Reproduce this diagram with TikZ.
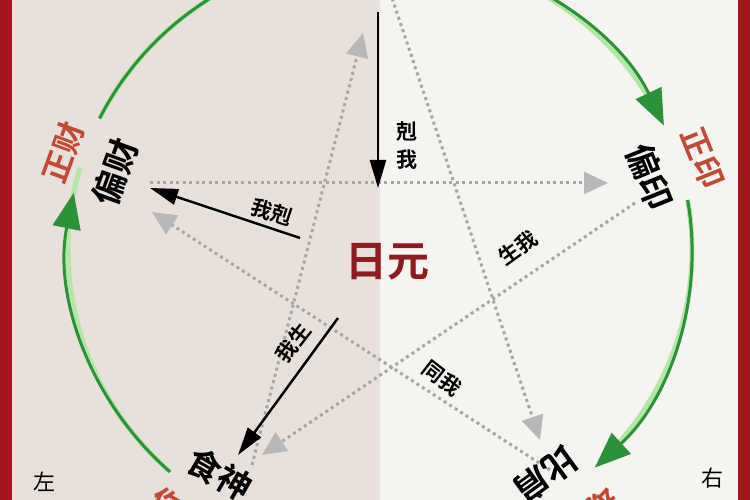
\documentclass[tikz,border=0pt]{standalone}
\usepackage{fontspec}
\newfontfamily\cjk{Noto Sans CJK SC}[BoldFont={* Bold}]
\usetikzlibrary{arrows.meta}

\definecolor{bgleft}{HTML}{E8E1DB}
\definecolor{bgright}{HTML}{F6F4F1}
\definecolor{frame}{HTML}{A3161A}
\definecolor{redlabel}{HTML}{C24A35}
\definecolor{rizhu}{HTML}{8E1B1F}
\definecolor{darkgreen}{HTML}{2B9238}
\definecolor{lightgreen}{HTML}{B2E8A4}
\definecolor{dotgray}{HTML}{A6A6A6}
\definecolor{tipgray}{HTML}{B8B8B8}

\begin{document}
\begin{tikzpicture}[x=1pt, y=1pt,
    ten/.style={font=\cjk\bfseries\fontsize{34}{34}\selectfont, text=black, inner sep=0pt},
    zheng/.style={font=\cjk\bfseries\fontsize{31}{31}\selectfont, text=redlabel, inner sep=0pt},
    rel/.style={font=\cjk\bfseries\fontsize{21}{28}\selectfont, text=black, inner sep=0pt, align=center},
    side/.style={font=\cjk\fontsize{22}{22}\selectfont, text=black, inner sep=0pt},
    star/.style={draw=dotgray, line width=3pt, dash pattern=on 3pt off 3.5pt,
        -{Triangle[length=24pt, width=22pt, color=tipgray]}},
    force/.style={draw=black, line width=2.5pt, -{Triangle[length=28pt, width=16pt]}},
    ringlight/.style={draw=lightgreen, line width=5pt},
    ring/.style={draw=darkgreen, line width=3pt},
    ringtip/.style={draw=darkgreen, line width=3pt, -{Triangle[length=36pt, width=28pt]}}]

    \clip (0,0) rectangle (750,500);

    %% BACKGROUND
    \fill[bgleft] (0,0) rectangle (380,500);
    \fill[bgright] (380,0) rectangle (750,500);
    \fill[frame] (0,0) rectangle (12,500);
    \fill[frame] (738,0) rectangle (750,500);

    %% COORDINATES
    \coordinate (O) at (380,250);
    % star ends
    \coordinate (sT1) at (386,520);
    \coordinate (sT2) at (363,467);
    \coordinate (sL1) at (150,317);
    \coordinate (sL2) at (152,288);
    \coordinate (sR1) at (608,317);
    \coordinate (sR2) at (635,297);
    \coordinate (sBL1) at (252,35);
    \coordinate (sBL2) at (262,45);
    \coordinate (sBR1) at (550,30);
    \coordinate (sBR2) at (540,60);
    % force ends
    \coordinate (fT) at (378,488);
    \coordinate (fC) at (378,312);
    \coordinate (fLa) at (300,262);
    \coordinate (fLb) at (150,312);
    \coordinate (fBa) at (338,182);
    \coordinate (fBb) at (238,45);
    % ring ends
    \coordinate (gL) at ([shift={(154:312 and 300)}]O);
    \coordinate (gTR) at ([shift={(80:312 and 300)}]O);
    \coordinate (gR) at ([shift={(9.6:312 and 300)}]O);
    \coordinate (gBL) at ([shift={(-132.3:312 and 300)}]O);

    %% RING (green)
    \path[ringlight] (gL) arc[start angle=154, end angle=100, x radius=312, y radius=300];
    \path[ring] (gL) arc[start angle=154, end angle=100, x radius=312, y radius=300];
    \path[ringlight] (gTR) arc[start angle=80, end angle=28, x radius=312, y radius=300];
    \path[ringtip] (gTR) arc[start angle=80, end angle=24.5, x radius=312, y radius=300];
    \path[ringlight] (gR) arc[start angle=9.6, end angle=-41, x radius=312, y radius=300];
    \path[ringtip] (gR) arc[start angle=9.6, end angle=-46.5, x radius=312, y radius=300];
    \path[ringlight] (gBL) arc[start angle=-132.3, end angle=-196, x radius=312, y radius=300];
    \path[ringtip] (gBL) arc[start angle=-132.3, end angle=-191, x radius=312, y radius=300];

    %% STAR (dotted)
    \draw[star] (sT1) -- (sBR2);
    \draw[star] (sBL1) -- (sT2);
    \draw[star] (sL1) -- (sR1);
    \draw[star] (sR2) -- (sBL2);
    \draw[star] (sBR1) -- (sL2);

    %% FORCES (black)
    \draw[force] (fT) -- (fC);
    \draw[force] (fLa) -- (fLb);
    \draw[force] (fBa) -- (fBb);

    %% NODES
    \node[font=\cjk\bfseries\fontsize{42}{42}\selectfont, text=rizhu] (rizhu) at (387,238) {日元};

    \node[ten, rotate=70] (piancai) at (115,328) {偏财};
    \node[zheng, rotate=70] (zhengcai) at (63,348) {正财};
    \node[ten, rotate=-68] (pianyin) at (650,323) {偏印};
    \node[zheng, rotate=-68] (zhengyin) at (703,342) {正印};
    \node[ten, rotate=-30] (shishen) at (220,26) {食神};
    \node[zheng, rotate=-30] (shangguan) at (180,-12) {伤官};
    \node[ten, rotate=216] (bijian) at (546,25) {比肩};
    \node[zheng, rotate=216] (jiecai) at (590,-14) {劫财};

    %% RELATION LABELS
    \node[rel] (kewo) at (407,354) {剋\\我};
    \node[rel, rotate=-18] (woke) at (272,288) {我剋};
    \node[rel, rotate=52] (wosheng) at (293,157) {我生};
    \node[rel, rotate=36] (shengwo) at (518,252) {生我};
    \node[rel, rotate=-38] (tongwo) at (442,122) {同我};

    \node[side] (zuo) at (44,18) {左};
    \node[side] (you) at (712,22) {右};

\end{tikzpicture}
\end{document}
